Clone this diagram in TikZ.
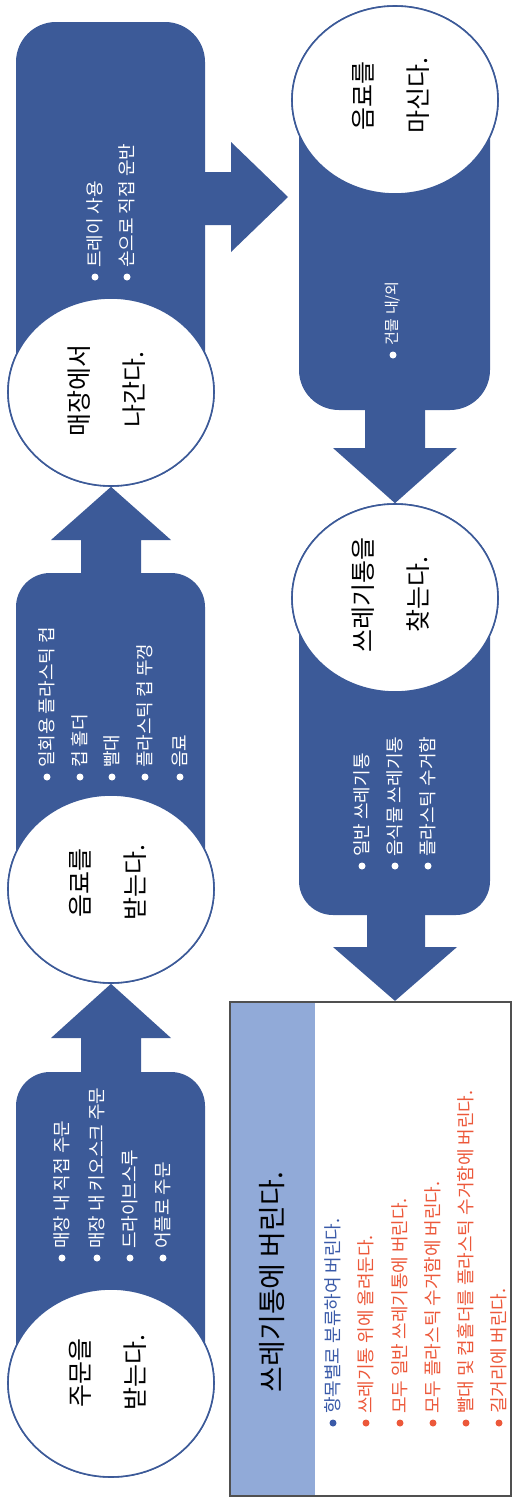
\documentclass[tikz,border=0pt]{standalone}
\usepackage{fontspec}
\setmainfont{Noto Sans CJK KR}
\usetikzlibrary{calc,shapes.geometric}
\definecolor{pblue}{RGB}{60,90,152}
\definecolor{lstrip}{RGB}{145,170,216}
\definecolor{bblue}{RGB}{58,90,168}
\definecolor{bred}{RGB}{236,88,58}
\definecolor{bgray}{RGB}{80,80,80}
\newcommand\bitem[5]{%
  \fill[#4] (#1,#2) circle (3.5pt);
  \node[itemtext, text=#4] (#5) at (#1,#2-9) {#3};}
\begin{document}
\begin{tikzpicture}[x=1pt,y=-1pt,
  panel/.style={fill=pblue},
  bubble/.style={ellipse, draw=pblue, line width=1.6pt, fill=white, minimum width=206pt, minimum height=188pt, inner sep=0pt},
  bubbletext/.style={rotate=90, align=center, font=\fontsize{25}{55}\selectfont, inner sep=0pt},
  itemtext/.style={rotate=90, anchor=west, font=\fontsize{18}{18}\selectfont, inner sep=0pt},
  titletext/.style={rotate=90, font=\fontsize{28}{28}\selectfont, inner sep=0pt},
  boxframe/.style={draw=bgray, line width=2.2pt, minimum width=281pt, minimum height=494pt, inner sep=0pt}]
\useasboundingbox (0,0) rectangle (513,1499);

% panels
\fill[panel] (16,392) [rounded corners=40pt] -- (16,22) -- (205,22) [sharp corners] -- (205,392) -- cycle;
\fill[panel] (16,889) [rounded corners=34pt] -- (16,573) -- (205,573) [sharp corners] -- (205,889) -- cycle;
\fill[panel] (16,1383) [rounded corners=34pt] -- (16,1072) -- (205,1072) [sharp corners] -- (205,1383) -- cycle;
\fill[panel] (299,100) [rounded corners=40pt] -- (299,410) -- (490,410) [sharp corners] -- (490,100) -- cycle;
\fill[panel] (299,598) [rounded corners=34pt] -- (299,915) -- (490,915) [sharp corners] -- (490,598) -- cycle;

% box
\node[boxframe] (box) at (370.5,1249) {};
\fill[lstrip] (box.north west) rectangle (315,1496);

% bubbles (placed for arrows)
\node[bubble] (c3) at (111,392) {};
\node[bubble] (c2) at (111,889) {};
\node[bubble] (c1) at (111,1383) {};
\node[bubble] (c4) at (395,100) {};
\node[bubble] (c5) at (395,598) {};

% block arrows
\fill[panel] (c3.south) -- (171,540) -- (141,540) -- (141,582) -- (81,582) -- (81,540) -- (51,540) -- cycle;
\fill[panel] (c2.south) -- (171,1038) -- (141,1038) -- (141,1080) -- (81,1080) -- (81,1038) -- (51,1038) -- cycle;
\coordinate (rtip) at (288,197);
\fill[panel] (rtip) -- (231,252) -- (231,225) -- (198,225) -- (198,172) -- (231,172) -- (231,142) -- cycle;
\fill[panel] (c5.north) -- (457,448) -- (425,448) -- (425,402) -- (365,402) -- (365,448) -- (333,448) -- cycle;
\coordinate (btip) at (c5 |- box.north);
\fill[panel] (btip) -- (457,947) -- (425,947) -- (425,908) -- (367,908) -- (367,947) -- (333,947) -- cycle;

% redraw bubbles and frame on top
\node[bubble] at (c3.center) {};
\node[bubble] at (c2.center) {};
\node[bubble] at (c1.center) {};
\node[bubble] at (c4.center) {};
\node[bubble] at (c5.center) {};
\node[boxframe] at (box.center) {};

% bubble texts
\node[bubbletext] (t1) at ($(c1.center)+(-3,-10)$) {주문을\\받는다.};
\node[bubbletext] (t2) at ($(c2.center)+(-3,-6)$) {음료를\\받는다.};
\node[bubbletext] (t3) at ($(c3.center)+(-4,-2)$) {매장에서\\나간다.};
\node[bubbletext] (t4) at ($(c4.center)+(-4,-4)$) {음료를\\마신다.};
\node[bubbletext] (t5) at ($(c5.center)+(-4,-3)$) {쓰레기통을\\찾는다.};

% panel items
\bitem{62}{1258}{매장 내 직접 주문}{white}{a1}
\bitem{97}{1258}{매장 내 키오스크 주문}{white}{a2}
\bitem{130}{1258}{드라이브스루}{white}{a3}
\bitem{163}{1258}{어플로 주문}{white}{a4}

\bitem{47}{777}{일회용 플라스틱 컵}{white}{b1}
\bitem{80}{777}{컵 홀더}{white}{b2}
\bitem{112}{777}{빨대}{white}{b3}
\bitem{145}{777}{플라스틱 컵 뚜껑}{white}{b4}
\bitem{180}{777}{음료}{white}{b5}

\bitem{95}{277}{트레이 사용}{white}{d1}
\bitem{127}{277}{손으로 직접 운반}{white}{d2}

\fill[white] (393,355) circle (3.5pt);
\node[itemtext, text=white, font=\fontsize{15}{15}\selectfont] (e1) at (393,346) {건물 내/외};

\bitem{362}{866}{일반 쓰레기통}{white}{f1}
\bitem{395}{866}{음식물 쓰레기통}{white}{f2}
\bitem{428}{866}{플라스틱 수거함}{white}{f3}

% box content
\node[titletext] (title) at (272,1282) {쓰레기통에 버린다.};
\bitem{333}{1423}{항목별로 분류하여 버린다.}{bblue}{g1}
\bitem{366}{1423}{쓰레기통 위에 올려둔다.}{bred}{g2}
\bitem{400}{1423}{모두 일반 쓰레기통에 버린다.}{bred}{g3}
\bitem{433}{1423}{모두 플라스틱 수거함에 버린다.}{bred}{g4}
\bitem{466}{1423}{빨대 및 컵홀더를 플라스틱 수거함에 버린다.}{bred}{g5}
\bitem{499}{1423}{길거리에 버린다.}{bred}{g6}
\end{tikzpicture}
\end{document}
